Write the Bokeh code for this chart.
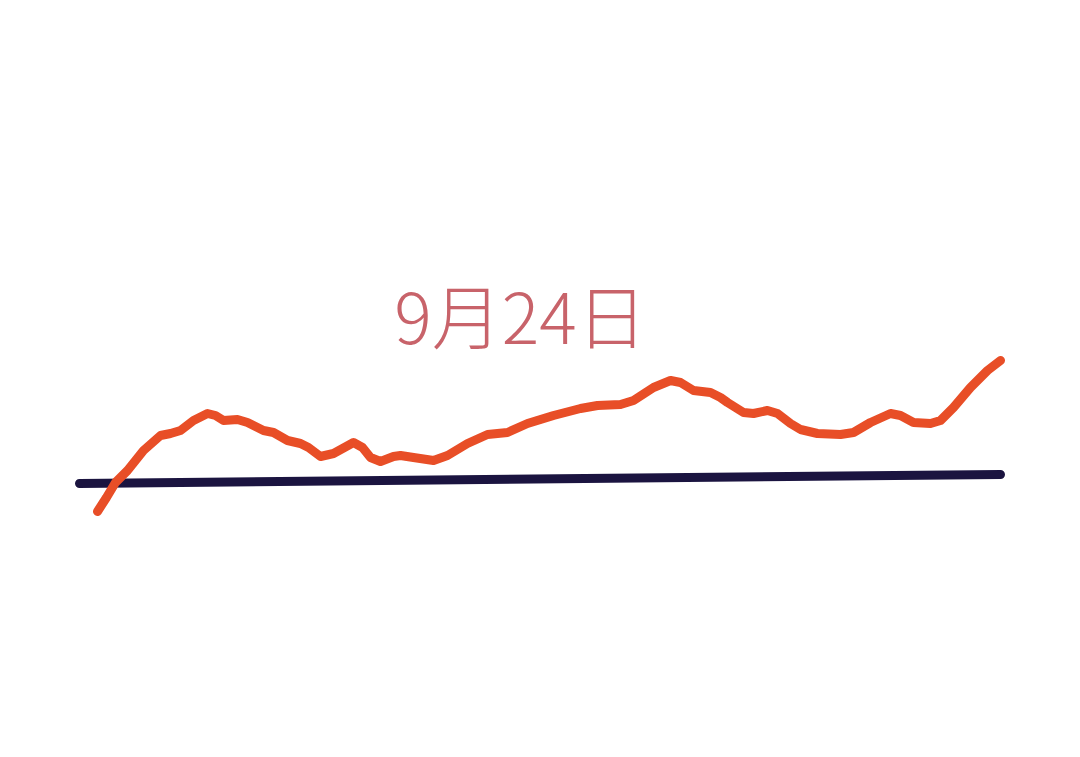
from bokeh.plotting import figure
from bokeh.models import Range1d
from bokeh.embed import file_html
from bokeh.resources import INLINE
from bokeh.core.properties import value

# time axis (arbitrary units) and index values
t = [17, 26, 35, 47, 63, 80, 90, 100, 113, 127, 135, 143, 157, 167, 183, 193,
     207, 220, 228, 240, 253, 273, 282, 290, 300, 313, 320, 333, 353, 367, 387,
     407, 427, 447, 473, 500, 517, 540, 553, 573, 590, 600, 613, 630, 640, 647,
     663, 673, 687, 697, 710, 720, 737, 760, 773, 790, 810, 820, 833, 850, 860,
     873, 890, 907, 920]
v = [-11, 3, 18, 30, 50, 65, 67, 70, 80, 87, 85, 80, 81, 78, 70, 68,
     60, 57, 53, 44, 47, 58, 53, 43, 39, 44, 45, 43, 40, 45, 57,
     66, 68, 77, 85, 92, 95, 96, 100, 113, 120, 118, 110, 108, 103, 98,
     88, 87, 90, 87, 77, 71, 67, 66, 68, 78, 87, 85, 78, 77, 80,
     93, 113, 130, 140]

base_t = [-1, 920]
base_v = [17, 26]

label = "9月24日"
label_t = [440]
label_v = [187]

p = figure(width=1064, height=741, output_backend="svg", toolbar_location=None,
           x_range=Range1d(-80, 984), y_range=Range1d(-241, 500),
           min_border=0)
p.axis.visible = False
p.grid.visible = False
p.outline_line_color = None
p.background_fill_color = "white"
p.border_fill_color = "white"

p.line(base_t, base_v, line_color="#1b1440", line_width=9, line_cap="round")
p.line(t, v, line_color="#E84E27", line_width=9, line_cap="round", line_join="round")

p.text(x=label_t, y=label_v, text=[label],
       text_font=value("'Noto Sans CJK SC Light', 'Noto Sans CJK SC'"),
       text_font_size="70px", text_color="#C8636A", text_align="center",
       text_baseline="middle")

open("out.html", "w").write(file_html(p, INLINE))
